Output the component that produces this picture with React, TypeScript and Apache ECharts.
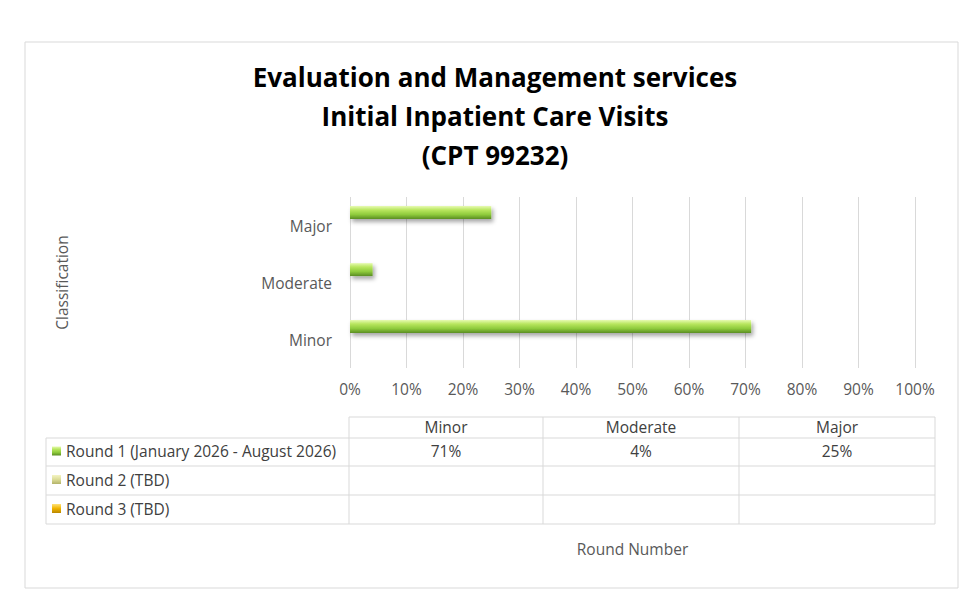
import React, { useEffect, useRef } from "react";
import * as echarts from "echarts";

const titleLines = [
  "Evaluation and Management services",
  "Initial Inpatient Care Visits",
  "(CPT 99232)",
];
const categories = ["Minor", "Moderate", "Major"];
const roundNames = [
  "Round 1 (January 2026 - August 2026)",
  "Round 2 (TBD)",
  "Round 3 (TBD)",
];
const round1: (number | null)[] = [0.71, 0.04, 0.25];
const round2: (number | null)[] = [null, null, null];
const round3: (number | null)[] = [null, null, null];
const xAxisName = "Round Number";
const yAxisName = "Classification";

const FONT = "'Open Sans', 'Noto Sans', sans-serif";
const TEXT = "#595959";
const LINE = "#d9d9d9";
const FS = 15.5;

const grad = (stops: [number, string][]) =>
  new echarts.graphic.LinearGradient(
    0,
    0,
    0,
    1,
    stops.map(([offset, color]) => ({ offset, color }))
  );

const roundFills = [
  () =>
    grad([
      [0, "#e6fab0"],
      [0.3, "#b8e65e"],
      [0.65, "#8fcb3c"],
      [1, "#5a8d22"],
    ]),
  () =>
    grad([
      [0, "#f4f4c4"],
      [0.5, "#dcdc96"],
      [1, "#b3b36a"],
    ]),
  () =>
    grad([
      [0, "#ffe27a"],
      [0.5, "#f0b400"],
      [1, "#b88700"],
    ]),
];

const pct = (v: number | null) => (v == null ? "" : `${Math.round(v * 100)}%`);

function buildTable(): any[] {
  const colX = [46, 349, 543, 739, 935];
  const rowY = [417, 438, 466, 495, 524];
  const els: any[] = [];
  const line = (x1: number, y1: number, x2: number, y2: number) =>
    els.push({
      type: "line",
      shape: { x1, y1, x2, y2 },
      style: { stroke: LINE, lineWidth: 1 },
      silent: true,
    });
  // horizontal rules
  line(colX[1], rowY[0], colX[4], rowY[0]);
  for (let r = 1; r < rowY.length; r++) line(colX[0], rowY[r], colX[4], rowY[r]);
  // vertical rules
  line(colX[0], rowY[1], colX[0], rowY[4]);
  for (let c = 1; c < colX.length; c++) line(colX[c], rowY[0], colX[c], rowY[4]);

  const cellText = (text: string, x: number, y: number, align: string) =>
    els.push({
      type: "text",
      x,
      y,
      style: {
        text,
        fill: "#404040",
        font: `${FS}px ${FONT}`,
        align,
        verticalAlign: "middle",
      },
      silent: true,
    });

  categories.forEach((cat, i) => {
    cellText(cat, (colX[i + 1] + colX[i + 2]) / 2, (rowY[0] + rowY[1]) / 2 - 1, "center");
  });
  const rounds = [round1, round2, round3];
  rounds.forEach((vals, r) => {
    const cy = (rowY[r + 1] + rowY[r + 2]) / 2 - 1;
    els.push({
      type: "rect",
      shape: { x: 52, y: cy - 4.5, width: 9, height: 9 },
      style: { fill: roundFills[r]() },
      silent: true,
    });
    cellText(roundNames[r], 66, cy, "left");
    vals.forEach((v, i) => {
      cellText(pct(v), (colX[i + 1] + colX[i + 2]) / 2, cy, "center");
    });
  });
  return els;
}

export default function App() {
  const ref = useRef<HTMLDivElement>(null);

  useEffect(() => {
    document.body.style.margin = "0";
    if (!ref.current) return;
    const chart = echarts.init(ref.current, undefined, { renderer: "svg" });

    const barSeries = [round1, round2, round3].map((data, i) => ({
      name: roundNames[i],
      type: "bar",
      data,
      barGap: "0%",
      barCategoryGap: "32%",
      itemStyle: {
        color: roundFills[i](),
        shadowColor: "rgba(0,0,0,0.35)",
        shadowBlur: 4,
        shadowOffsetX: 2,
        shadowOffsetY: 3,
      },
    }));

    chart.setOption({
      animation: false,
      backgroundColor: "#ffffff",
      textStyle: { fontFamily: FONT },
      title: {
        text: titleLines.join("\n"),
        left: 490,
        top: 52,
        textAlign: "center",
        textStyle: {
          fontFamily: FONT,
          fontSize: 26,
          fontWeight: "bold",
          color: "#000000",
          lineHeight: 39,
        },
      },
      grid: { left: 350, right: 60, top: 197, bottom: 245, containLabel: false },
      xAxis: {
        type: "value",
        min: 0,
        max: 1,
        interval: 0.1,
        name: xAxisName,
        nameLocation: "middle",
        nameGap: 173,
        nameTextStyle: { color: TEXT, fontSize: FS, fontFamily: FONT },
        axisLine: { show: false },
        axisTick: { show: false },
        axisLabel: {
          color: TEXT,
          fontSize: FS,
          margin: 13,
          formatter: (v: number) => `${Math.round(v * 100)}%`,
        },
        splitLine: { show: true, lineStyle: { color: LINE, width: 1 } },
      },
      yAxis: {
        type: "category",
        data: categories,
        name: yAxisName,
        nameLocation: "middle",
        nameGap: 280,
        nameRotate: 90,
        nameTextStyle: { color: TEXT, fontSize: FS, fontFamily: FONT },
        axisLine: { show: false },
        axisTick: { show: false },
        axisLabel: { color: TEXT, fontSize: FS, margin: 18 },
        splitLine: { show: false },
      },
      series: barSeries,
      graphic: [
        {
          type: "rect",
          shape: { x: 25, y: 42, width: 933, height: 546 },
          style: { fill: "none", stroke: LINE, lineWidth: 1 },
          silent: true,
          z: -1,
        },
        ...buildTable(),
      ],
    });

    return () => chart.dispose();
  }, []);

  return <div ref={ref} style={{ width: 975, height: 613 }} />;
}
